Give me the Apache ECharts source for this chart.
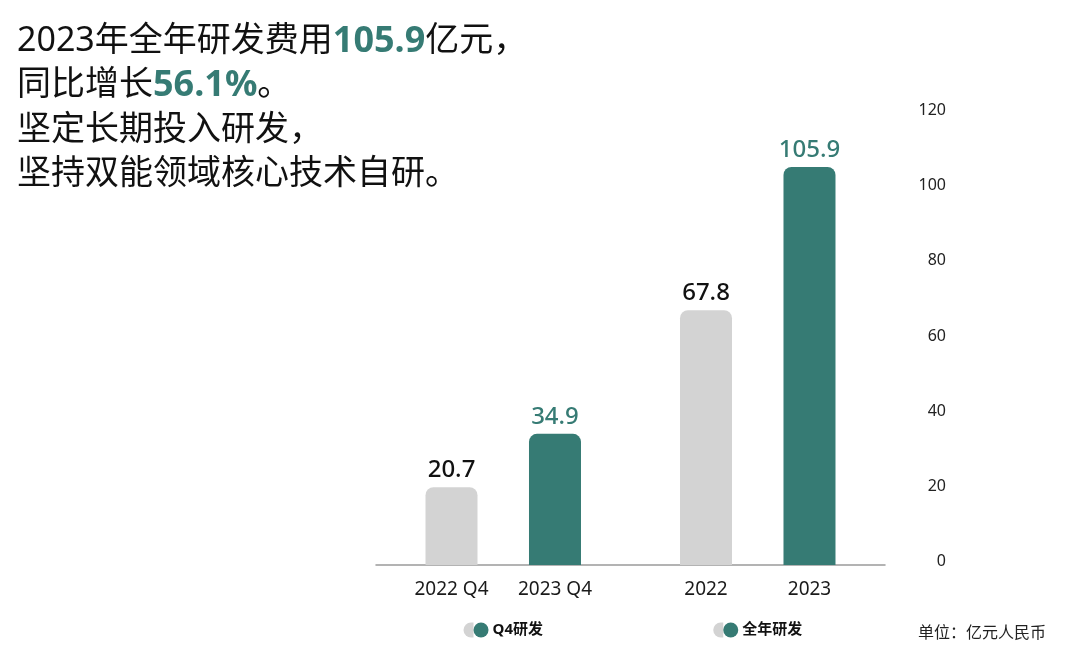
<!DOCTYPE html>
<html>
<head>
<meta charset="utf-8">
<script src="https://cdn.jsdelivr.net/npm/echarts@6/dist/echarts.min.js"></script>
<style>
  html, body { margin: 0; padding: 0; background: #ffffff; }
  #chart { width: 1080px; height: 658px; }
</style>
</head>
<body>
<div id="chart"></div>
<script>
// ---- data ----
const categories = ['Q4研发', '全年研发'];
const labels2022 = ['2022 Q4', '2022'];
const labels2023 = ['2023 Q4', '2023'];
const values2022 = [20.7, 67.8];
const values2023 = [34.9, 105.9];
const yMin = 0, yMax = 120, yInterval = 20;
const headline = [
  ['2023年全年研发费用', '105.9', '亿元，'],
  ['同比增长', '56.1%', '。'],
  ['坚定长期投入研发，'],
  ['坚持双能领域核心技术自研。']
];
const unitText = '单位：亿元人民币';

// ---- styles ----
const TEAL = '#367b74';
const GRAY = '#d3d3d3';
const FONT = '"Noto Sans", "Noto Sans CJK SC", sans-serif';

const headlineText = headline.map(parts => parts.map((p, i) => (i === 1 ? `{b|${p}}` : `{a|${p}}`)).join('')).join('\n');

const chart = echarts.init(document.getElementById('chart'), null, { renderer: 'canvas' });
chart.setOption({
  backgroundColor: '#ffffff',
  animation: false,
  title: [
    {
      text: headlineText,
      left: 12,
      top: 14,
      textStyle: {
        fontWeight: 'normal',
        rich: {
          a: { fontFamily: FONT, fontSize: 34, fontWeight: 'normal', color: '#111111', lineHeight: 44.5 },
          b: { fontFamily: FONT, fontSize: 36, fontWeight: 'bold', color: TEAL, lineHeight: 44.5 }
        }
      }
    },
    {
      text: unitText,
      left: 913,
      top: 620,
      textStyle: { fontFamily: FONT, fontSize: 16, fontWeight: 'normal', color: '#222222' }
    }
  ],
  grid: { left: 376, right: 195, top: 114, bottom: 93 },
  xAxis: {
    type: 'category',
    data: categories,
    axisLine: { lineStyle: { color: '#9a9a9a', width: 1.5 } },
    axisTick: { show: false },
    axisLabel: {
      margin: 13,
      interval: 0,
      formatter: (value, index) =>
        `{y|${labels2022[index]}}{y|${labels2023[index]}}\n{g| }{t| }{n|${value}}`,
      rich: {
        y: { width: 103.5, align: 'center', fontFamily: FONT, fontSize: 19, color: '#1a1a1a', lineHeight: 24 },
        g: { width: 10, height: 15, backgroundColor: GRAY, borderRadius: [7.5, 0, 0, 7.5], lineHeight: 56 },
        t: { width: 15, height: 15, backgroundColor: TEAL, borderRadius: 7.5, lineHeight: 56 },
        n: { fontFamily: FONT, fontSize: 15, fontWeight: 'bold', color: '#111111', padding: [0, 0, 0, 4], lineHeight: 56 }
      }
    }
  },
  yAxis: {
    type: 'value',
    position: 'right',
    min: yMin,
    max: yMax,
    interval: yInterval,
    splitLine: { show: false },
    axisLine: { show: false },
    axisTick: { show: false },
    axisLabel: {
      align: 'right',
      margin: 61,
      formatter: v => `{v|${v}}`,
      rich: {
        v: { fontFamily: FONT, fontSize: 16, color: '#222222', padding: [0, 0, 7, 0] }
      }
    }
  },
  series: [
    {
      name: '2022',
      type: 'bar',
      data: values2022,
      barWidth: 52,
      barGap: '99%',
      itemStyle: { color: GRAY, borderRadius: [8, 8, 0, 0] },
      label: {
        show: true, position: 'top', distance: 5,
        fontFamily: FONT, fontSize: 24, fontWeight: 500, color: '#111111'
      }
    },
    {
      name: '2023',
      type: 'bar',
      data: values2023,
      barWidth: 52,
      itemStyle: { color: TEAL, borderRadius: [8, 8, 0, 0] },
      label: {
        show: true, position: 'top', distance: 5,
        fontFamily: FONT, fontSize: 24, fontWeight: 500, color: TEAL
      }
    }
  ]
});
</script>
</body>
</html>
